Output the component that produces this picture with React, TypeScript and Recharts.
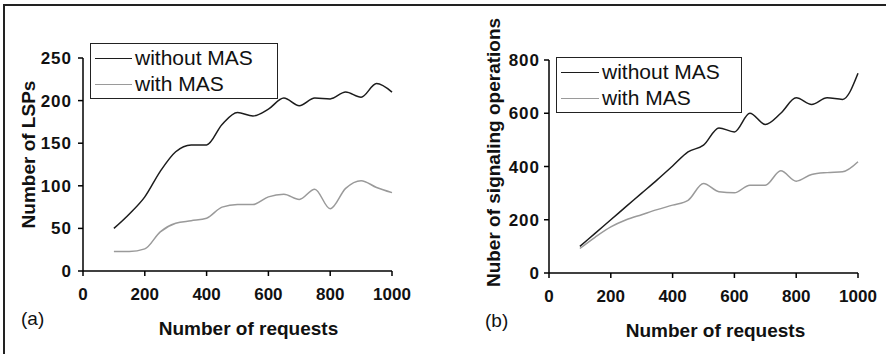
import { Legend, Line, LineChart, XAxis, YAxis } from "recharts"

const requests = [100, 150, 200, 250, 300, 350, 400, 450, 500, 550, 600, 650, 700, 750, 800, 850, 900, 950, 1000]
const seriesNames = ["without MAS", "with MAS"]

// (a) number of LSPs
const lspWithout = [50, 67, 87, 117, 140, 148, 148, 172, 186, 182, 190, 203, 194, 203, 202, 210, 204, 220, 210]
const lspWith = [23, 23, 26, 46, 56, 59, 62, 75, 78, 78, 87, 90, 84, 96, 73, 97, 106, 98, 92]

// (b) signaling operations
const sigWithout = [100, 150, 200, 250, 300, 350, 402, 455, 480, 545, 530, 600, 558, 600, 658, 633, 658, 652, 750]
const sigWith = [92, 135, 173, 200, 219, 238, 255, 273, 336, 305, 301, 330, 330, 384, 345, 370, 377, 380, 418]

const xTicks = [0, 200, 400, 600, 800, 1000]
const lspTicks = [0, 50, 100, 150, 200, 250]
const sigTicks = [0, 200, 400, 600, 800]

const lspData = requests.map((r, i) => ({ r, without: lspWithout[i], with: lspWith[i] }))
const sigData = requests.map((r, i) => ({ r, without: sigWithout[i], with: sigWith[i] }))

const FONT = "'Liberation Sans', Arial, Helvetica, sans-serif"
const DARK = "#1c1c1c"
const GRAY = "#9a9a9a"

const xTickStyle = { fontSize: 17, fontWeight: 700, fill: "#111", fontFamily: FONT }
const yTickStyle = { fontSize: 17, fontWeight: 700, fill: "#111", fontFamily: FONT, letterSpacing: 1 }

function legendBox(lineLen: number) {
  return function LegendContent(props: any) {
    const items = [...(props.payload || [])].sort(
      (a: any, b: any) => seriesNames.indexOf(a.value) - seriesNames.indexOf(b.value)
    )
    return (
      <div
        style={{
          border: "1px solid #222",
          background: "#fff",
          padding: "1px 4px",
          fontFamily: FONT,
          fontSize: 21,
          lineHeight: "26px",
          color: "#111",
        }}
      >
        {items.map((it: any) => (
          <div key={it.value} style={{ display: "flex", alignItems: "center", whiteSpace: "nowrap" }}>
            <span style={{ display: "inline-block", width: lineLen, height: 0, borderTop: `1.5px solid ${it.color}`, marginRight: 3 }} />
            {it.value}
          </div>
        ))}
      </div>
    )
  }
}

function yTitle(text: string, dx: number, dy: number) {
  return function YTitle(props: any) {
    const vb = props.viewBox
    const x = vb.x + dx
    const y = vb.y + vb.height / 2 + dy
    return (
      <text x={x} y={y} transform={`rotate(-90, ${x}, ${y})`} textAnchor="middle" dominantBaseline="central"
        style={{ fontSize: 19, fontWeight: 700, fontFamily: FONT, fill: "#111" }}>
        {text}
      </text>
    )
  }
}

function xTitle(panel: string, dx: number, panelX: number) {
  return function XTitle(props: any) {
    const vb = props.viewBox
    const cx = vb.x + vb.width / 2 + dx
    return (
      <g>
        <text x={cx} y={vb.y + 57} textAnchor="middle" dominantBaseline="central"
          style={{ fontSize: 19, fontWeight: 700, fontFamily: FONT, fill: "#111" }}>
          Number of requests
        </text>
        <text x={vb.x + panelX} y={vb.y + 47} dominantBaseline="central"
          style={{ fontSize: 19, fontFamily: FONT, fill: "#111" }}>
          {panel}
        </text>
      </g>
    )
  }
}

export default function App() {
  return (
    <div style={{ position: "absolute", left: 0, top: 0, width: 886, height: 354, background: "#fff", overflow: "hidden" }}>
      <div style={{ position: "absolute", left: 3, top: 4, right: 0, bottom: 0, borderTop: "2px solid #222", borderLeft: "2px solid #222" }} />
      <div style={{ position: "absolute", left: 0, top: 0 }}>
        <LineChart width={443} height={354} data={lspData} margin={{ top: 58, right: 51, bottom: 53, left: 23 }}>
          <XAxis dataKey="r" type="number" domain={[0, 1000]} ticks={xTicks} height={30}
            stroke="#000" strokeWidth={1.5} tickSize={5} tickMargin={12} tick={xTickStyle}
            label={{ content: xTitle("(a)", 11, -62) }} />
          <YAxis type="number" domain={[0, 250]} ticks={lspTicks} width={60}
            stroke="#000" strokeWidth={1.5} tickSize={5} tickMargin={6} tick={yTickStyle}
            label={{ content: yTitle("Number of LSPs", 5, -10) }} />
          <Legend layout="horizontal" verticalAlign="middle" align="center"
            wrapperStyle={{ left: 90, top: 43, width: 188 }} content={legendBox(37)} />
          <Line type="monotone" dataKey="without" name="without MAS" stroke={DARK} strokeWidth={1.5} dot={false} isAnimationActive={false} />
          <Line type="monotone" dataKey="with" name="with MAS" stroke={GRAY} strokeWidth={1.5} dot={false} isAnimationActive={false} />
        </LineChart>
      </div>
      <div style={{ position: "absolute", left: 443, top: 0 }}>
        <LineChart width={443} height={354} data={sigData} margin={{ top: 60, right: 28, bottom: 51, left: 46 }}>
          <XAxis dataKey="r" type="number" domain={[0, 1000]} ticks={xTicks} height={30}
            stroke="#000" strokeWidth={1.5} tickSize={5} tickMargin={12} tick={xTickStyle}
            label={{ content: xTitle("(b)", 12, -64) }} />
          <YAxis type="number" domain={[0, 800]} ticks={sigTicks} width={60}
            stroke="#000" strokeWidth={1.5} tickSize={5} tickMargin={4} tick={yTickStyle}
            label={{ content: yTitle("Nuber of signaling operations", 4, -14) }} />
          <Legend layout="horizontal" verticalAlign="middle" align="center"
            wrapperStyle={{ left: 113, top: 57, width: 186 }} content={legendBox(38)} />
          <Line type="monotone" dataKey="without" name="without MAS" stroke={DARK} strokeWidth={1.5} dot={false} isAnimationActive={false} />
          <Line type="monotone" dataKey="with" name="with MAS" stroke={GRAY} strokeWidth={1.5} dot={false} isAnimationActive={false} />
        </LineChart>
      </div>
    </div>
  )
}
